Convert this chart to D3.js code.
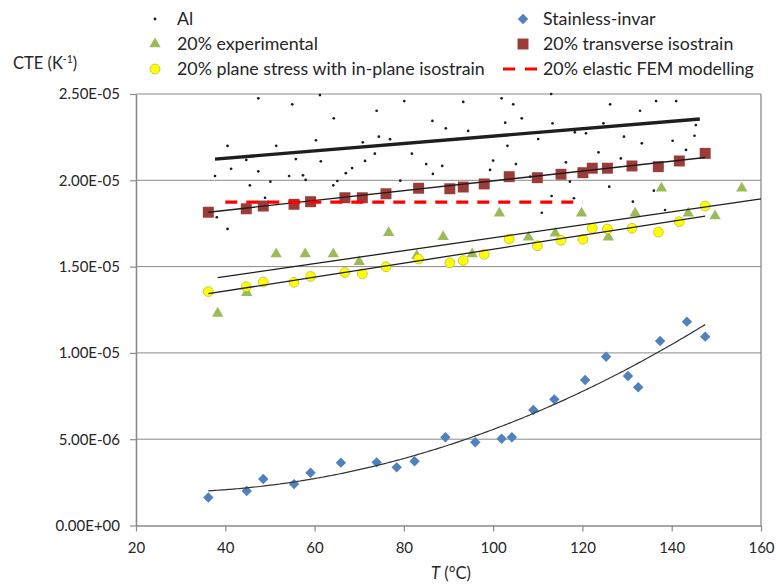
<!DOCTYPE html>
<html>
<head>
<meta charset="utf-8">
<script src="https://cdn.jsdelivr.net/npm/d3@7"></script>
<style>
  html, body { margin: 0; padding: 0; background: #fff; }
  svg { display: block; font-family: Lato, "Open Sans", sans-serif; }
</style>
</head>
<body>
<svg id="chart" width="776" height="584"></svg>
<script>
// Axis ticks
const xTicks = [20, 40, 60, 80, 100, 120, 140, 160];
const yTicks = [0, 5, 10, 15, 20, 25];               // CTE in 1e-6 K^-1
const yTickLabels = ["0.00E+00", "5.00E-06", "1.00E-05", "1.50E-05", "2.00E-05", "2.50E-05"];

// Al measurements: temperature (°C) and CTE (1e-6 K^-1)
const alT = [47.4, 55.0, 61.2, 40.5, 51.4, 60.3, 64.3, 73.9, 80.1, 86.4,
             93.3, 89.4, 94.4, 74.4, 76.9, 70.8, 37.7, 41.3, 44.7, 47.4,
             55.8, 61.4, 54.3, 57.4, 58.0, 50.1, 45.5, 48.9, 67.0, 68.4,
             71.3, 73.5, 81.8, 85.0, 86.5, 88.6, 91.7, 79.2, 64.2, 65.1,
             38.1, 40.5, 101.9, 104.5, 113.0, 102.7, 106.4, 103.2, 100.0, 99.3,
             105.1, 108.3, 110.1, 113.3, 116.3, 117.2, 118.3, 120.8, 113.1, 118.1,
             110.9, 123.6, 124.7, 126.2, 126.0, 128.6, 129.3, 132.9, 133.3, 131.3,
             136.5, 136.0, 138.5, 140.2, 141.0, 143.2, 145.1, 145.4];
const alCTE = [24.75, 24.40, 24.94, 21.99, 22.00, 22.32, 23.59, 24.03, 24.59, 23.44,
               24.54, 23.01, 22.86, 22.53, 22.38, 22.20, 20.25, 20.67, 21.18, 20.52,
               21.23, 21.10, 20.25, 20.29, 20.02, 19.92, 19.71, 18.99, 20.41, 20.71,
               21.12, 21.54, 21.54, 20.94, 20.37, 20.83, 22.39, 19.98, 19.71, 19.96,
               17.86, 17.18, 24.75, 24.40, 25.00, 23.34, 23.59, 22.00, 21.14, 20.60,
               20.94, 20.21, 22.39, 23.30, 21.04, 19.92, 22.78, 22.72, 19.09, 18.96,
               18.12, 21.62, 23.30, 24.40, 19.63, 21.27, 22.53, 24.03, 22.14, 18.76,
               24.59, 19.40, 18.28, 22.29, 24.59, 21.76, 22.58, 23.20];
// Al linear trendline (end points)
const alFitT = [37.7, 146.3];
const alFitCTE = [21.23, 23.55];

// Stainless-invar
const invarT = [36.2, 44.8, 48.5, 55.4, 59.1, 65.9, 73.9, 78.4, 82.4, 89.3, 96.0,
                101.9, 104.2, 109.0, 113.7, 120.6, 125.3, 130.2, 132.5, 137.4, 143.4, 147.5];
const invarCTE = [1.62, 2.00, 2.69, 2.40, 3.06, 3.64, 3.66, 3.37, 3.72, 5.11, 4.82,
                  5.03, 5.11, 6.69, 7.31, 8.43, 9.78, 8.66, 8.01, 10.69, 11.81, 10.94];

// 20% experimental
const expT = [38.3, 44.8, 51.4, 57.9, 64.2, 70.0, 76.6, 82.9, 88.8, 95.3,
              101.4, 107.9, 113.9, 119.8, 125.8, 131.8, 137.7, 143.7, 149.7, 155.7];
const expCTE = [12.29, 13.49, 15.73, 15.73, 15.73, 15.28, 16.96, 15.63, 16.73, 15.73,
                18.09, 16.70, 16.93, 18.09, 16.70, 18.09, 19.54, 18.09, 17.93, 19.54];
const expFitT = [38.3, 160];
const expFitCTE = [14.36, 18.92];

// Model temperatures
const modelT = [36.2, 44.7, 48.5, 55.4, 59.1, 66.8, 70.7, 76.0, 83.3, 90.3, 93.3,
                98.0, 103.6, 109.9, 115.2, 120.1, 122.2, 125.6, 131.1, 137.0, 141.7, 147.5];
// 20% transverse isostrain
const transverseCTE = [18.15, 18.35, 18.51, 18.61, 18.76, 18.99, 18.99, 19.22, 19.54, 19.51, 19.61,
                       19.79, 20.21, 20.15, 20.35, 20.44, 20.70, 20.70, 20.83, 20.79, 21.12, 21.56];
const transverseFitT = [36.2, 147.5];
const transverseFitCTE = [18.15, 21.32];
// 20% plane stress with in-plane isostrain
const planeCTE = [13.55, 13.84, 14.11, 14.09, 14.43, 14.66, 14.58, 14.99, 15.44, 15.22, 15.35,
                  15.71, 16.60, 16.21, 16.52, 16.58, 17.22, 17.18, 17.22, 17.00, 17.60, 18.51];
const planeFitT = [36.2, 147.5];
const planeFitCTE = [13.43, 17.93];

// 20% elastic FEM modelling
const femT = [40, 120];
const femCTE = [18.73, 18.73];

// Legend entries
const legendLabels = ["Al", "Stainless-invar", "20% experimental", "20% transverse isostrain",
                      "20% plane stress with in-plane isostrain", "20% elastic FEM modelling"];

const svg = d3.select("#chart");
const plot = { left: 136, right: 761, top: 94, bottom: 525.5 };
const x = d3.scaleLinear().domain([xTicks[0], xTicks[xTicks.length - 1]]).range([plot.left, plot.right]);
const y = d3.scaleLinear().domain([yTicks[0], yTicks[yTicks.length - 1]]).range([plot.bottom, plot.top]);

const GRID = "#8a8a8a";
const TEXT = "#262626";
const COL = {
  al: "#1a1a1a", invar: "#4F81BD", exp: "#9BBB59",
  trans: "#9C3C38", plane: "#FFFF00", planeEdge: "#C4C43A", fem: "#FF0000", trend: "#1e1e1e"
};

// Horizontal gridlines
svg.append("g").selectAll("line").data(yTicks.slice(1)).join("line")
  .attr("x1", plot.left).attr("x2", plot.right)
  .attr("y1", d => y(d)).attr("y2", d => y(d))
  .attr("stroke", GRID).attr("stroke-width", 1);
// Right border of plot area
svg.append("line")
  .attr("x1", plot.right).attr("x2", plot.right).attr("y1", plot.top).attr("y2", plot.bottom)
  .attr("stroke", GRID).attr("stroke-width", 1.3);

// Axes
const gy = svg.append("g").attr("transform", `translate(${plot.left},0)`)
  .call(d3.axisLeft(y).tickValues(yTicks).tickFormat((d, i) => yTickLabels[i])
    .tickSize(6).tickSizeOuter(0).tickPadding(10));
const gx = svg.append("g").attr("transform", `translate(0,${plot.bottom})`)
  .call(d3.axisBottom(x).tickValues(xTicks).tickFormat(d3.format("d"))
    .tickSize(6).tickSizeOuter(0).tickPadding(11));
[gx, gy].forEach(g => {
  g.select(".domain").attr("stroke", GRID).attr("stroke-width", 1.6);
  g.selectAll(".tick line").attr("stroke", GRID).attr("stroke-width", 1.2);
  g.selectAll(".tick text").attr("fill", TEXT).attr("font-size", 15)
    .attr("font-family", "Lato, 'Open Sans', sans-serif");
});

// Axis titles
const ctTitle = svg.append("text").attr("x", 13).attr("y", 69)
  .attr("font-size", 16.5).attr("fill", TEXT);
ctTitle.append("tspan").text("CTE (K");
ctTitle.append("tspan").attr("font-size", 10.5).attr("dy", -6).text("-1");
ctTitle.append("tspan").attr("dy", 6).text(")");

const tTitle = svg.append("text").attr("x", 451).attr("y", 579)
  .attr("text-anchor", "middle").attr("font-size", 16.5).attr("fill", TEXT);
tTitle.append("tspan").attr("font-style", "italic").text("T");
tTitle.append("tspan").text(" (°C)");

// Markers
const zip = (a, b) => a.map((v, i) => [v, b[i]]);
const sym = (type, size) => d3.symbol().type(type).size(size)();

// Al
svg.append("g").selectAll("circle").data(zip(alT, alCTE)).join("circle")
  .attr("cx", d => x(d[0])).attr("cy", d => y(d[1])).attr("r", 1.35).attr("fill", COL.al);

// Stainless-invar (diamonds)
svg.append("g").selectAll("path").data(zip(invarT, invarCTE)).join("path")
  .attr("d", sym(d3.symbolSquare, 54))
  .attr("transform", d => `translate(${x(d[0])},${y(d[1])}) rotate(45)`)
  .attr("fill", COL.invar);

// 20% experimental (triangles)
svg.append("g").selectAll("path").data(zip(expT, expCTE)).join("path")
  .attr("d", sym(d3.symbolTriangle, 56))
  .attr("transform", d => `translate(${x(d[0])},${y(d[1])})`)
  .attr("fill", COL.exp);

// 20% transverse isostrain (squares)
svg.append("g").selectAll("path").data(zip(modelT, transverseCTE)).join("path")
  .attr("d", sym(d3.symbolSquare, 120))
  .attr("transform", d => `translate(${x(d[0])},${y(d[1])})`)
  .attr("fill", COL.trans);

// 20% plane stress (circles)
svg.append("g").selectAll("circle").data(zip(modelT, planeCTE)).join("circle")
  .attr("cx", d => x(d[0])).attr("cy", d => y(d[1])).attr("r", 4.9)
  .attr("fill", COL.plane).attr("stroke", COL.planeEdge).attr("stroke-width", 0.9);

// Trendlines
const line = d3.line().x(d => x(d[0])).y(d => y(d[1]));
function drawFit(ts, vs, width) {
  svg.append("path").datum(zip(ts, vs)).attr("d", line)
    .attr("fill", "none").attr("stroke", COL.trend).attr("stroke-width", width);
}
drawFit(alFitT, alFitCTE, 3.4);
drawFit(transverseFitT, transverseFitCTE, 1.3);
drawFit(planeFitT, planeFitCTE, 1.3);
drawFit(expFitT, expFitCTE, 1.3);

// Quadratic least-squares trendline for stainless-invar
function quadFit(xs, ys) {
  const S = k => d3.sum(xs, v => Math.pow(v, k));
  const T = k => d3.sum(xs, (v, i) => Math.pow(v, k) * ys[i]);
  const A = [[S(0), S(1), S(2)], [S(1), S(2), S(3)], [S(2), S(3), S(4)]];
  const b = [T(0), T(1), T(2)];
  const det = m => m[0][0] * (m[1][1] * m[2][2] - m[1][2] * m[2][1])
                 - m[0][1] * (m[1][0] * m[2][2] - m[1][2] * m[2][0])
                 + m[0][2] * (m[1][0] * m[2][1] - m[1][1] * m[2][0]);
  const D = det(A);
  return [0, 1, 2].map(c => det(A.map((row, r) => row.map((v, j) => j === c ? b[r] : v))) / D);
}
const invarCoef = quadFit(invarT, invarCTE);
const [tMin, tMax] = d3.extent(invarT);
const invarCurve = d3.range(tMin, tMax, 0.5).concat([tMax])
  .map(t => [t, invarCoef[0] + invarCoef[1] * t + invarCoef[2] * t * t]);
svg.append("path").datum(invarCurve).attr("d", line)
  .attr("fill", "none").attr("stroke", "#333").attr("stroke-width", 1.2);

// 20% elastic FEM modelling (red dashed)
svg.append("path").datum(zip(femT, femCTE)).attr("d", line)
  .attr("fill", "none").attr("stroke", COL.fem).attr("stroke-width", 3.2)
  .attr("stroke-dasharray", "12,9");

// Legend
const legend = svg.append("g").attr("font-size", 17.8).attr("fill", TEXT);
const cols = [{ sx: 155, tx: 177 }, { sx: 523, tx: 543 }];
const rows = [19, 44, 69];
legendLabels.forEach((label, i) => {
  const c = cols[i % 2], r = rows[Math.floor(i / 2)];
  legend.append("text").attr("x", c.tx).attr("y", r + 5.8).text(label);
  const g = legend.append("g").attr("transform", `translate(${c.sx},${r})`);
  if (i === 0) g.append("circle").attr("r", 1.4).attr("fill", COL.al);
  if (i === 1) g.append("path").attr("d", sym(d3.symbolSquare, 54)).attr("transform", "rotate(45)").attr("fill", COL.invar);
  if (i === 2) g.append("path").attr("d", sym(d3.symbolTriangle, 56)).attr("fill", COL.exp);
  if (i === 3) g.append("path").attr("d", sym(d3.symbolSquare, 120)).attr("fill", COL.trans);
  if (i === 4) g.append("circle").attr("r", 4.9).attr("fill", COL.plane).attr("stroke", COL.planeEdge).attr("stroke-width", 0.9);
  if (i === 5) g.append("line").attr("x1", -20).attr("x2", 14).attr("stroke", COL.fem)
    .attr("stroke-width", 3.2).attr("stroke-dasharray", "12,10");
});
</script>
</body>
</html>
